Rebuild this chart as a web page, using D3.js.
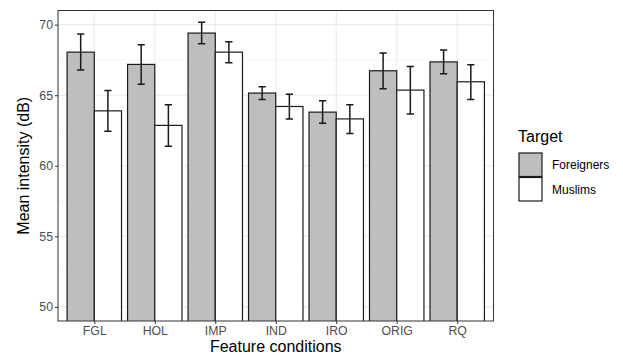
<!DOCTYPE html>
<html>
<head>
<meta charset="utf-8">
<script src="https://cdn.jsdelivr.net/npm/d3@7"></script>
<style>
  body { margin: 0; background: #fff; }
  svg text { font-family: "Liberation Sans", Arial, Helvetica, sans-serif; }
</style>
</head>
<body>
<div id="chart"></div>
<script>
const categories = ["FGL", "HOL", "IMP", "IND", "IRO", "ORIG", "RQ"];
const groups = ["Foreigners", "Muslims"];
const foreignersMean = [68.05, 67.18, 69.40, 65.15, 63.80, 66.73, 67.36];
const foreignersLow  = [66.78, 65.78, 68.64, 64.70, 63.02, 65.45, 66.51];
const foreignersHigh = [69.33, 68.57, 70.16, 65.59, 64.60, 67.98, 68.21];
const muslimsMean = [63.89, 62.86, 68.05, 64.20, 63.32, 65.36, 65.95];
const muslimsLow  = [62.45, 61.39, 67.29, 63.32, 62.29, 63.66, 64.70];
const muslimsHigh = [65.34, 64.32, 68.78, 65.07, 64.32, 67.04, 67.15];
const yTicks = [50, 55, 60, 65, 70];
const yMinor = [52.5, 57.5, 62.5, 67.5];

const fills = {Foreigners: "#BEBEBE", Muslims: "#FFFFFF"};

const rows = [];
categories.forEach((c, i) => {
  rows.push({cat: c, grp: "Foreigners", v: foreignersMean[i], lo: foreignersLow[i], hi: foreignersHigh[i]});
  rows.push({cat: c, grp: "Muslims", v: muslimsMean[i], lo: muslimsLow[i], hi: muslimsHigh[i]});
});

const width = 623, height = 356;
const panel = {left: 58, top: 10.5, right: 493.5, bottom: 321};

const svg = d3.select("#chart").append("svg")
    .attr("width", width).attr("height", height);

// discrete axis like ggplot: range 0.4 .. n+0.6
const xPos = d3.scaleLinear().domain([0.4, categories.length + 0.6]).range([panel.left, panel.right]);
const y = d3.scaleLinear().domain([49, 71]).range([panel.bottom, panel.top]);
const unit = xPos(2) - xPos(1);

svg.append("defs").append("clipPath").attr("id", "clip")
  .append("rect").attr("x", panel.left).attr("y", panel.top)
  .attr("width", panel.right - panel.left).attr("height", panel.bottom - panel.top);

const grid = svg.append("g");
grid.selectAll("line.minor").data(yMinor).enter().append("line")
  .attr("x1", panel.left).attr("x2", panel.right)
  .attr("y1", d => y(d)).attr("y2", d => y(d))
  .attr("stroke", "#F2F2F2").attr("stroke-width", 0.6);
grid.selectAll("line.major").data(yTicks).enter().append("line")
  .attr("x1", panel.left).attr("x2", panel.right)
  .attr("y1", d => y(d)).attr("y2", d => y(d))
  .attr("stroke", "#EBEBEB").attr("stroke-width", 1.1);
grid.selectAll("line.vmajor").data(categories).enter().append("line")
  .attr("x1", (d, i) => xPos(i + 1)).attr("x2", (d, i) => xPos(i + 1))
  .attr("y1", panel.top).attr("y2", panel.bottom)
  .attr("stroke", "#EBEBEB").attr("stroke-width", 1.1);

const barW = unit * 0.45;
const gi = g => groups.indexOf(g);
const ci = c => categories.indexOf(c);
const barX = d => xPos(ci(d.cat) + 1) - unit * 0.45 + gi(d.grp) * barW;

const plot = svg.append("g").attr("clip-path", "url(#clip)");
plot.selectAll("rect.bar").data(rows).enter().append("rect")
  .attr("x", d => barX(d))
  .attr("y", d => y(d.v))
  .attr("width", barW)
  .attr("height", d => y(45) - y(d.v))
  .attr("fill", d => fills[d.grp])
  .attr("stroke", "#1a1a1a").attr("stroke-width", 1.2);

const capW = 3.6;
const eb = plot.selectAll("g.eb").data(rows).enter().append("g")
  .attr("stroke", "#1a1a1a").attr("stroke-width", 1.5);
eb.append("line")
  .attr("x1", d => barX(d) + barW / 2).attr("x2", d => barX(d) + barW / 2)
  .attr("y1", d => y(d.lo)).attr("y2", d => y(d.hi));
eb.append("line")
  .attr("x1", d => barX(d) + barW / 2 - capW).attr("x2", d => barX(d) + barW / 2 + capW)
  .attr("y1", d => y(d.lo)).attr("y2", d => y(d.lo));
eb.append("line")
  .attr("x1", d => barX(d) + barW / 2 - capW).attr("x2", d => barX(d) + barW / 2 + capW)
  .attr("y1", d => y(d.hi)).attr("y2", d => y(d.hi));

svg.append("rect")
  .attr("x", panel.left).attr("y", panel.top)
  .attr("width", panel.right - panel.left).attr("height", panel.bottom - panel.top)
  .attr("fill", "none").attr("stroke", "#333333").attr("stroke-width", 1);

// y axis
const yAxis = svg.append("g").attr("transform", `translate(${panel.left},0)`)
  .call(d3.axisLeft(y).tickValues(yTicks).tickSize(3).tickPadding(2));
yAxis.select(".domain").remove();
yAxis.selectAll(".tick line").attr("stroke", "#333333").attr("stroke-width", 1);
yAxis.selectAll(".tick text").attr("fill", "#4D4D4D").style("font-size", "12.3px")
  .style("font-family", '"Liberation Sans", Arial, sans-serif');

// x axis
const xAxis = svg.append("g").attr("transform", `translate(0,${panel.bottom})`)
  .call(d3.axisBottom(xPos).tickValues(d3.range(1, categories.length + 1))
    .tickFormat(d => categories[d - 1]).tickSize(3).tickPadding(2));
xAxis.select(".domain").remove();
xAxis.selectAll(".tick line").attr("stroke", "#333333").attr("stroke-width", 1);
xAxis.selectAll(".tick text").attr("fill", "#4D4D4D").style("font-size", "12.3px")
  .style("font-family", '"Liberation Sans", Arial, sans-serif');

svg.append("text")
  .attr("transform", `translate(29,${(panel.top + panel.bottom) / 2}) rotate(-90)`)
  .attr("text-anchor", "middle").attr("fill", "#000").style("font-size", "16px")
  .text("Mean intensity (dB)");
svg.append("text")
  .attr("x", (panel.left + panel.right) / 2).attr("y", 352)
  .attr("text-anchor", "middle").attr("fill", "#000").style("font-size", "16px")
  .text("Feature conditions");

// legend
const leg = svg.append("g").attr("transform", "translate(518,0)");
leg.append("text").attr("x", 0).attr("y", 142).style("font-size", "16px").attr("fill", "#000").text("Target");
const item = leg.selectAll("g.item").data(groups).enter().append("g")
  .attr("transform", (d, i) => `translate(0,${153 + i * 24.5})`);
item.append("rect").attr("x", 1).attr("y", 0).attr("width", 23).attr("height", 23.5)
  .attr("fill", d => fills[d]).attr("stroke", "#1a1a1a").attr("stroke-width", 1.2);
item.append("text").attr("x", 34).attr("y", 12).attr("dy", "0.35em")
  .style("font-size", "12px").attr("fill", "#000").text(d => d);
</script>
</body>
</html>
